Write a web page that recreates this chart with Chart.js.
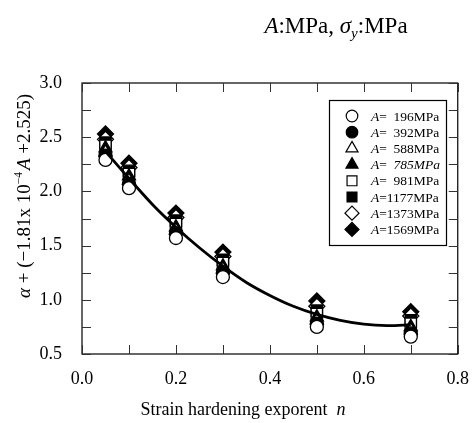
<!DOCTYPE html>
<html><head><meta charset="utf-8">
<script src="https://cdn.jsdelivr.net/npm/chart.js@4"></script>
<style>html,body{margin:0;padding:0;background:#fff}</style>
</head><body>
<canvas id="c" width="475" height="423"></canvas>
<script>
// ---- data ----
const nValues = [0.05, 0.1, 0.2, 0.3, 0.5, 0.7];
const A196  = [2.29, 2.03, 1.57, 1.21, 0.75, 0.66];
const A392  = [2.33, 2.07, 1.61, 1.25, 0.78, 0.69];
const A588  = [2.36, 2.10, 1.64, 1.28, 0.81, 0.72];
const A785  = [2.40, 2.14, 1.67, 1.31, 0.84, 0.75];
const A981  = [2.42, 2.16, 1.70, 1.34, 0.87, 0.78];
const A1177 = [2.45, 2.19, 1.73, 1.37, 0.90, 0.81];
const A1373 = [2.48, 2.22, 1.76, 1.40, 0.94, 0.85];
const A1569 = [2.53, 2.26, 1.80, 1.44, 0.99, 0.89];
const fitN = [0.05, 0.1, 0.15, 0.2, 0.25, 0.3, 0.35, 0.4, 0.45, 0.5, 0.55, 0.6, 0.65, 0.7];
const fitY = [2.37, 2.12, 1.88, 1.67, 1.48, 1.31, 1.16, 1.04, 0.94, 0.865, 0.81, 0.775, 0.762, 0.77];
const xTickLabels = [0.0, 0.2, 0.4, 0.6, 0.8];
const yTickLabels = [0.5, 1.0, 1.5, 2.0, 2.5, 3.0];
const legendLabels = ['196MPa', '392MPa', '588MPa', '785MPa', '981MPa', '1177MPa', '1373MPa', '1569MPa'];

const SERIF = '"Liberation Serif", "Times New Roman", serif';
const seriesDefs = [
  {data: A196,  style: 'circle',   fill: '#fff', r: 6.5},
  {data: A392,  style: 'circle',   fill: '#000', r: 6.5},
  {data: A588,  style: 'triangle', fill: '#fff', r: 7.5},
  {data: A785,  style: 'triangle', fill: '#000', r: 7.5},
  {data: A981,  style: 'rect',     fill: '#fff', r: 8},
  {data: A1177, style: 'rect',     fill: '#000', r: 8},
  {data: A1373, style: 'rectRot',  fill: '#fff', r: 8},
  {data: A1569, style: 'rectRot',  fill: '#000', r: 8}
];

const datasets = seriesDefs.map((s, i) => ({
  type: 'scatter',
  label: legendLabels[i],
  data: nValues.map((n, j) => ({x: n, y: s.data[j]})),
  pointStyle: s.style,
  pointRadius: s.r,
  pointBackgroundColor: s.fill,
  pointBorderColor: '#000',
  pointBorderWidth: 1.3,
  showLine: false,
  order: 1
}));
datasets.push({
  type: 'line',
  label: 'fit',
  data: fitN.map((n, j) => ({x: n, y: fitY[j]})),
  borderColor: '#000',
  borderWidth: 2.8,
  pointRadius: 0,
  tension: 0.3,
  fill: false,
  order: 0
});

function drawRich(ctx, segs, x, y, align) {
  let total = 0;
  segs.forEach(s => { ctx.font = s.font; s.w = ctx.measureText(s.t).width; total += s.w + (s.gap || 0); });
  let cx = align === 'center' ? x - total / 2 : x;
  ctx.textBaseline = 'alphabetic';
  ctx.textAlign = 'left';
  segs.forEach(s => {
    ctx.font = s.font;
    ctx.fillText(s.t, cx, y + (s.dy || 0));
    cx += s.w + (s.gap || 0);
  });
}

const framePlugin = {
  id: 'frame',
  afterDatasetsDraw(chart) {
    const {ctx, chartArea: ca, scales} = chart;
    const xs = scales.x, ys = scales.y;
    ctx.save();
    ctx.strokeStyle = '#000';
    ctx.lineWidth = 1.2;
    ctx.strokeRect(ca.left, ca.top, ca.right - ca.left, ca.bottom - ca.top);
    ctx.lineWidth = 1;
    ctx.strokeStyle = '#333';
    const TL = 9;
    for (let v = 0; v <= 8; v++) {
      const px = Math.round(xs.getPixelForValue(v / 10)) + 0.5;
      ctx.beginPath();
      ctx.moveTo(px, ca.bottom); ctx.lineTo(px, ca.bottom - TL);
      ctx.moveTo(px, ca.top); ctx.lineTo(px, ca.top + TL);
      ctx.stroke();
    }
    for (let v = 2; v <= 12; v++) {
      const py = Math.round(ys.getPixelForValue(v / 4)) + 0.5;
      ctx.beginPath();
      ctx.moveTo(ca.left, py); ctx.lineTo(ca.left + TL, py);
      ctx.moveTo(ca.right, py); ctx.lineTo(ca.right - TL, py);
      ctx.stroke();
    }
    ctx.restore();
  },
  afterDraw(chart) {
    const {ctx} = chart;
    ctx.save();
    // legend
    const bx = 329, by = 100, bw = 117, bh = 145;
    ctx.fillStyle = '#fff';
    ctx.fillRect(bx, by, bw, bh);
    ctx.strokeStyle = '#000';
    ctx.lineWidth = 1.2;
    ctx.strokeRect(bx + 0.5, by + 0.5, bw, bh);
    const rowH = 16.2;
    seriesDefs.forEach((s, i) => {
      const cy = by + 16 + i * rowH;
      ctx.fillStyle = s.fill;
      ctx.strokeStyle = '#000';
      ctx.lineWidth = 1.2;
      const r = s.style === 'circle' ? 5.8 : 7;
      Chart.helpers.drawPoint(ctx, {pointStyle: s.style, radius: r, rotation: 0, borderWidth: 1.2}, 352, cy);
      ctx.fillStyle = '#000';
      const lbl = legendLabels[i];
      const pad = lbl.length === 6 ? '  ' : '';
      const it = i === 3;
      drawRich(ctx, [
        {t: 'A', font: 'italic 13.5px ' + SERIF},
        {t: '=' + pad, font: '13.5px ' + SERIF},
        {t: lbl, font: (it ? 'italic ' : '') + '13.5px ' + SERIF}
      ], 371, cy + 4.5, 'left');
    });
    // title
    ctx.fillStyle = '#000';
    drawRich(ctx, [
      {t: 'A', font: 'italic 23px ' + SERIF},
      {t: ':MPa, ', font: '23px ' + SERIF},
      {t: 'σ', font: 'italic 23px ' + SERIF},
      {t: 'y', font: 'italic 15px ' + SERIF, dy: 5},
      {t: ':MPa', font: '23px ' + SERIF}
    ], 336, 33, 'center');
    // x title
    drawRich(ctx, [
      {t: 'Strain hardening exporent  ', font: '18px ' + SERIF},
      {t: 'n', font: 'italic 18px ' + SERIF}
    ], 243, 415, 'center');
    // y title
    ctx.translate(30, 196);
    ctx.rotate(-Math.PI / 2);
    drawRich(ctx, [
      {t: 'α', font: 'italic 19px ' + SERIF},
      {t: ' + (−1.81x 10', font: '19px ' + SERIF},
      {t: '−4', font: '11.5px ' + SERIF, dy: -8, gap: 2},
      {t: 'A', font: 'italic 19px ' + SERIF},
      {t: ' +2.525)', font: '19px ' + SERIF}
    ], 0, 0, 'center');
    ctx.restore();
  }
};

new Chart(document.getElementById('c'), {
  data: {datasets},
  options: {
    responsive: false,
    animation: false,
    layout: {padding: {left: 0, top: 83, right: 17, bottom: 0}},
    plugins: {legend: {display: false}, tooltip: {enabled: false}, title: {display: false}},
    scales: {
      x: {
        type: 'linear', min: 0, max: 0.8,
        grid: {display: false}, border: {display: false},
        afterFit(s) { s.height = 69; },
        afterBuildTicks(s) { s.ticks = xTickLabels.map(v => ({value: v})); },
        ticks: {color: '#000', font: {family: SERIF, size: 18}, padding: 6,
          callback: v => v.toFixed(1), maxRotation: 0, autoSkip: false}
      },
      y: {
        type: 'linear', min: 0.5, max: 3.0,
        grid: {display: false}, border: {display: false},
        afterFit(s) { s.width = 82; },
        afterBuildTicks(s) { s.ticks = yTickLabels.map(v => ({value: v})); },
        ticks: {color: '#000', font: {family: SERIF, size: 18}, padding: 12,
          callback: v => v.toFixed(1), autoSkip: false}
      }
    }
  },
  plugins: [framePlugin]
});
</script>
</body></html>
